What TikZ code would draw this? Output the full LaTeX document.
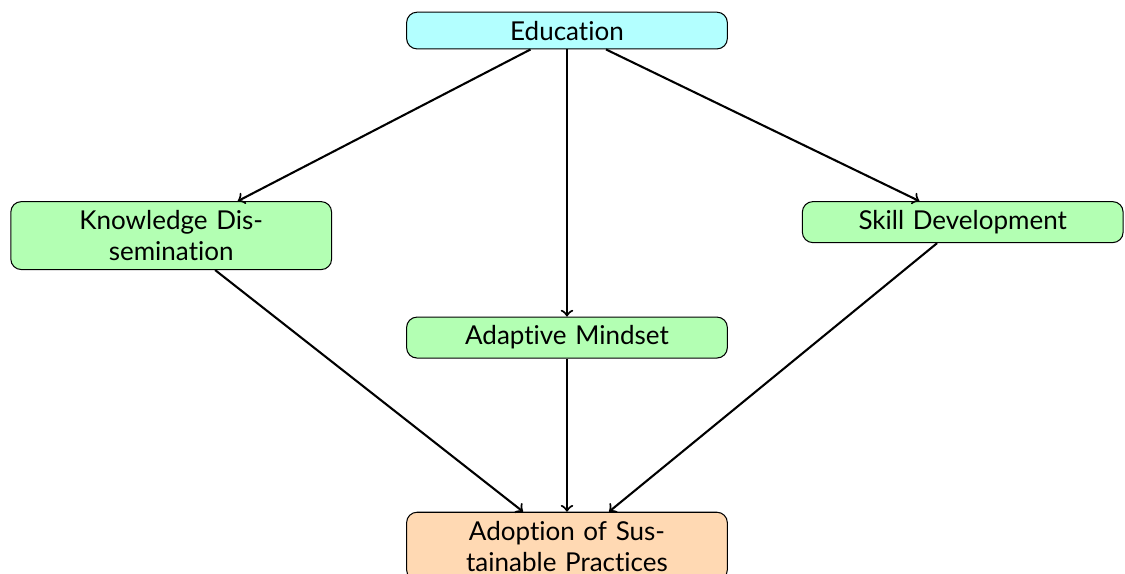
\documentclass[tikz,border=0pt]{standalone}
\usepackage{fontspec}
\setmainfont{Lato}[Ligatures=NoCommon]
\usetikzlibrary{positioning}
\definecolor{topicfill}{RGB}{179,255,255}
\definecolor{factorfill}{RGB}{179,255,179}
\definecolor{outcomefill}{RGB}{255,217,179}

\begin{document}
\begin{tikzpicture}[
    font=\normalsize,
    node distance=2.05cm and 1.0cm,
    topic/.style={rectangle, rounded corners, draw=black, fill=topicfill, text width=4.1cm, align=center},
    factor/.style={rectangle, rounded corners, draw=black, fill=factorfill, text width=4.1cm, align=center},
    outcome/.style={rectangle, rounded corners, draw=black, fill=outcomefill, text width=4.1cm, align=center},
    arrow/.style={->, thick}
]
    \path[use as bounding box] (0,0) rectangle (15.203,-7.757);

    % Root
    \node[topic, anchor=north] (edu) at (7.662,-0.158) {Education};

    % Intermediate factors
    \node[factor, below left=of edu] (know) {Knowledge Dis-\\semination};
    \node[factor, below right=of edu] (skill) {Skill Development};
    \node[factor, below=3.61cm of edu] (mind) {Adaptive Mindset};

    % Outcome
    \node[outcome, below=2.07cm of mind] (adopt) {Adoption of Sus-\\tainable Practices};

    % Arrows
    \draw[arrow] (edu) -- (know);
    \draw[arrow] (edu) -- (mind);
    \draw[arrow] (edu) -- (skill);
    \draw[arrow] (know) -- (adopt);
    \draw[arrow] (mind) -- (adopt);
    \draw[arrow] (skill) -- (adopt);

\end{tikzpicture}
\end{document}
